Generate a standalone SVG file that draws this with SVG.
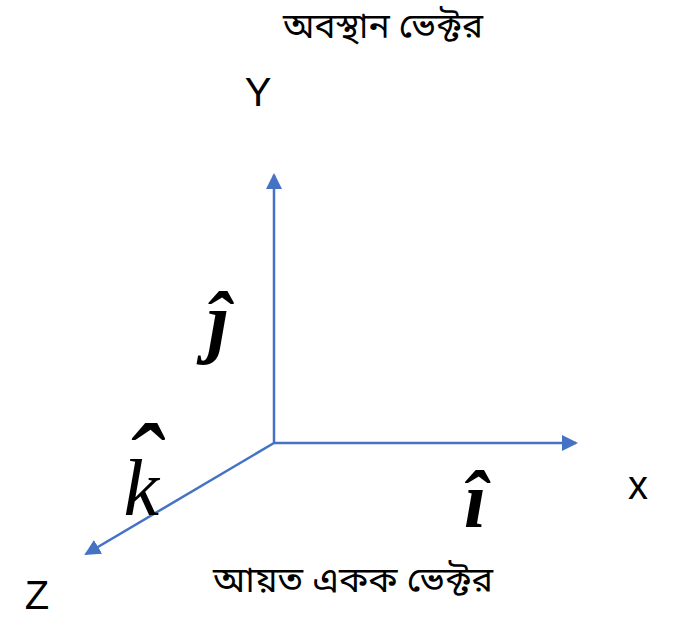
<svg xmlns="http://www.w3.org/2000/svg" width="687" height="618" viewBox="0 0 687 618">
<style>
.ax{stroke:#4472C4;stroke-width:2.5;fill:none}
.lbl{font-family:"Liberation Sans",Arial,sans-serif;font-size:40px;fill:#000}
.bn{font-family:"Noto Sans Bengali","Noto Serif Bengali","Lohit Bengali","Noto Sans",sans-serif;font-size:35px;fill:#000}
.m{font-family:"Liberation Serif","DejaVu Serif",serif;font-style:italic;fill:#000}
</style>
<defs>
<marker id="ah" markerWidth="16" markerHeight="16" refX="14" refY="8" orient="auto" markerUnits="userSpaceOnUse">
<path d="M0,0 L16,8 L0,16 Z" fill="#4472C4"/>
</marker>
</defs>
<g id="connectors">
<line class="ax" x1="274" y1="443" x2="274" y2="175" marker-end="url(#ah)"/>
<line class="ax" x1="274" y1="443" x2="576" y2="443" marker-end="url(#ah)"/>
<line class="ax" x1="274" y1="443" x2="86" y2="554" marker-end="url(#ah)"/>
</g>
<g id="title"><text class="bn" x="383" y="38" text-anchor="middle" textLength="200" lengthAdjust="spacingAndGlyphs">অবস্থান ভেক্টর</text></g>
<g id="subtitle"><text class="bn" x="353" y="592" text-anchor="middle" textLength="280" lengthAdjust="spacingAndGlyphs">আয়ত একক ভেক্টর</text></g>
<g id="Y"><text class="lbl" x="258" y="106" text-anchor="middle">Y</text></g>
<g id="X"><text class="lbl" x="638" y="499" text-anchor="middle">x</text></g>
<g id="Z"><text class="lbl" x="37" y="609" text-anchor="middle">Z</text></g>
<g id="jhat"><text class="m" x="218" y="348" font-size="80" font-weight="bold" text-anchor="middle">ĵ</text></g>
<g id="ihat"><text class="m" x="475" y="527" font-size="80" font-weight="bold" text-anchor="middle">î</text></g>
<g id="khat"><text class="m" x="122" y="515" font-size="80">k<tspan dx="-37" dy="-12" font-size="115">ˆ</tspan></text></g>
</svg>
